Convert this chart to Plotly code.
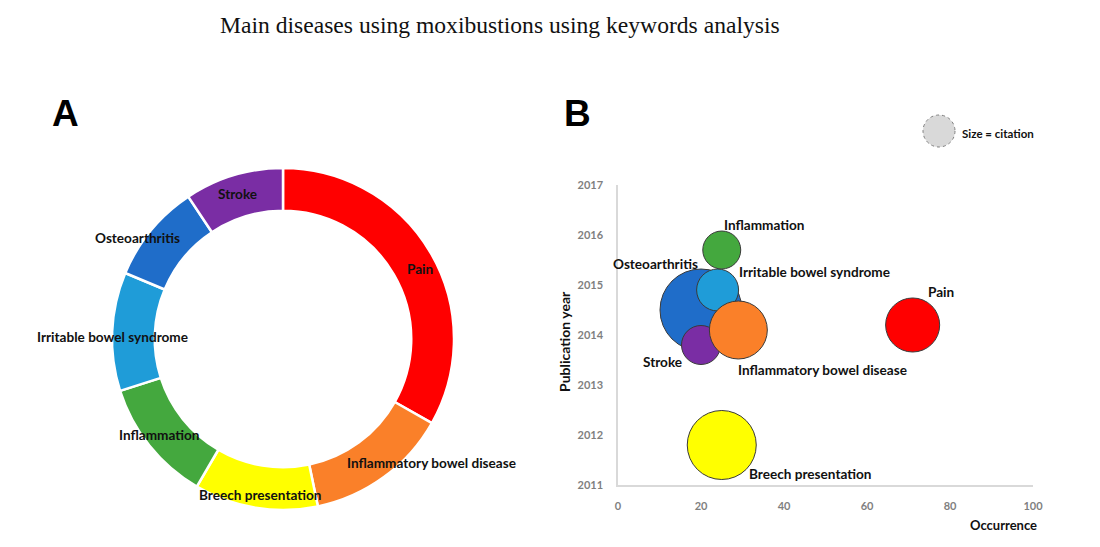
import plotly.graph_objects as go

# The page body has an 8px margin; size the figure so the page fits the 1100x547 window exactly.
PAGE_W, PAGE_H, BODY_MARGIN = 1100, 547, 8
W, H = PAGE_W - 2 * BODY_MARGIN, PAGE_H - 2 * BODY_MARGIN

# ---- data ----
diseases = ["Pain", "Inflammatory bowel disease", "Breech presentation", "Inflammation",
            "Irritable bowel syndrome", "Osteoarthritis", "Stroke"]
occurrence = [71, 29, 25, 25, 24, 20, 20]
pub_year = [2014.2, 2014.1, 2011.8, 2015.7, 2014.9, 2014.5, 2013.8]
citation = [146, 168, 238, 72, 88, 336, 76]
colors = ["#FF0000", "#FA8029", "#FFFF00", "#44A83E", "#1F9CD8", "#1F6DC9", "#7A2DA4"]

x_ticks = [0, 20, 40, 60, 80, 100]
y_ticks = [2011, 2012, 2013, 2014, 2015, 2016, 2017]

LABEL_FONT = dict(family="Lato", size=13.6, color="#111111")


def px(x):
    return (x - BODY_MARGIN) / W


def py(y):
    return 1 - (y - BODY_MARGIN) / H


fig = go.Figure()

# ---- Panel A: donut ----
fig.add_trace(go.Pie(
    labels=diseases, values=occurrence, sort=False, direction="clockwise", rotation=0,
    hole=0.75, textinfo="none", hoverinfo="label+value", automargin=False,
    marker=dict(colors=colors, line=dict(color="white", width=2.5)),
    domain=dict(x=[px(112), px(454)], y=[py(510), py(168)]),
    showlegend=False,
))

donut_label_pos = {
    "Pain": (420, 269),
    "Stroke": (237, 194),
    "Osteoarthritis": (137, 238),
    "Irritable bowel syndrome": (112, 337),
    "Inflammation": (159, 435),
    "Breech presentation": (260, 495),
    "Inflammatory bowel disease": (431, 463),
}
annotations = []
for name in diseases:
    x, y = donut_label_pos[name]
    annotations.append(dict(text="<b>%s</b>" % name, x=px(x), y=py(y), xref="paper", yref="paper",
                            xanchor="center", yanchor="middle", showarrow=False, font=LABEL_FONT))

# ---- Panel B: bubble chart ----
sizeref = 2.0 * max(citation) / (82 ** 2)
draw_order = ["Osteoarthritis", "Stroke", "Irritable bowel syndrome", "Inflammation",
              "Inflammatory bowel disease", "Breech presentation", "Pain"]
for name in draw_order:
    i = diseases.index(name)
    fig.add_trace(go.Scatter(
        x=[occurrence[i]], y=[pub_year[i]], mode="markers", name=name,
        marker=dict(size=[citation[i]], sizemode="area", sizeref=sizeref, color=colors[i],
                    opacity=1, line=dict(color="#3a3a3a", width=1)),
        showlegend=False, xaxis="x", yaxis="y",
    ))

bubble_label_offsets = {
    "Inflammation": ("left", 0, 25),
    "Irritable bowel syndrome": ("left", 19, 18),
    "Osteoarthritis": ("right", -1, 46),
    "Stroke": ("right", -17, -17),
    "Inflammatory bowel disease": ("left", -2, -40),
    "Pain": ("left", 13, 33),
    "Breech presentation": ("left", 25, -29),
}
for name in diseases:
    i = diseases.index(name)
    anc, dx, dy = bubble_label_offsets[name]
    annotations.append(dict(text="<b>%s</b>" % name, x=occurrence[i], y=pub_year[i], xref="x", yref="y",
                            xanchor=anc, yanchor="middle", xshift=dx, yshift=dy, showarrow=False,
                            font=LABEL_FONT))

# axis titles / panel labels / title
annotations += [
    dict(text="<b>Occurrence</b>", x=px(1039), y=py(525), xref="paper", yref="paper",
         xanchor="right", yanchor="middle", showarrow=False, font=dict(family="Lato", size=13, color="#111")),
    dict(text="<b>Publication year</b>", x=px(564), y=py(342), xref="paper", yref="paper",
         xanchor="center", yanchor="middle", textangle=-90, showarrow=False,
         font=dict(family="Lato", size=14, color="#111")),
    dict(text="<b>Size = citation</b>", x=px(960), y=py(133), xref="paper", yref="paper",
         xanchor="left", yanchor="middle", showarrow=False, font=dict(family="Lato", size=11.5, color="#111")),
    dict(text="<b>A</b>", x=px(65), y=py(114), xref="paper", yref="paper", xanchor="center",
         yanchor="middle", showarrow=False, font=dict(family="Liberation Sans", size=37, color="#000")),
    dict(text="<b>B</b>", x=px(577), y=py(114), xref="paper", yref="paper", xanchor="center",
         yanchor="middle", showarrow=False, font=dict(family="Liberation Sans", size=37, color="#000")),
    dict(text="Main diseases using moxibustions using keywords analysis", x=px(500), y=py(25),
         xref="paper", yref="paper", xanchor="center", yanchor="middle", showarrow=False,
         font=dict(family="Liberation Serif", size=23.6, color="#111")),
]

shapes = [dict(type="circle", xref="paper", yref="paper", x0=px(923), x1=px(955), y0=py(147), y1=py(115),
               fillcolor="#D9D9D9", line=dict(color="#7f7f7f", width=1, dash="dot"))]

fig.update_layout(
    width=W, height=H, margin=dict(l=0, r=0, t=0, b=0, pad=0, autoexpand=False),
    paper_bgcolor="white", plot_bgcolor="white",
    xaxis=dict(domain=[px(618), px(1033)], range=[0, 100], tickvals=x_ticks, automargin=False,
               ticktext=["<b>%d</b>" % v for v in x_ticks], showgrid=False, zeroline=False,
               showline=True, linecolor="#D9D9D9", linewidth=1.5, ticks="", ticklabelstandoff=10,
               tickfont=dict(family="Lato", size=11, color="#7f7f7f"), anchor="y"),
    yaxis=dict(domain=[py(485), py(185)], range=[2011, 2017], tickvals=y_ticks, automargin=False,
               ticktext=["<b>%d</b>" % v for v in y_ticks], showgrid=False, zeroline=False,
               showline=True, linecolor="#D9D9D9", linewidth=1.5, ticks="", ticklabelstandoff=11,
               tickfont=dict(family="Lato", size=11, color="#7f7f7f"), anchor="x"),
    annotations=annotations, shapes=shapes,
)

fig.write_html("out.html")
